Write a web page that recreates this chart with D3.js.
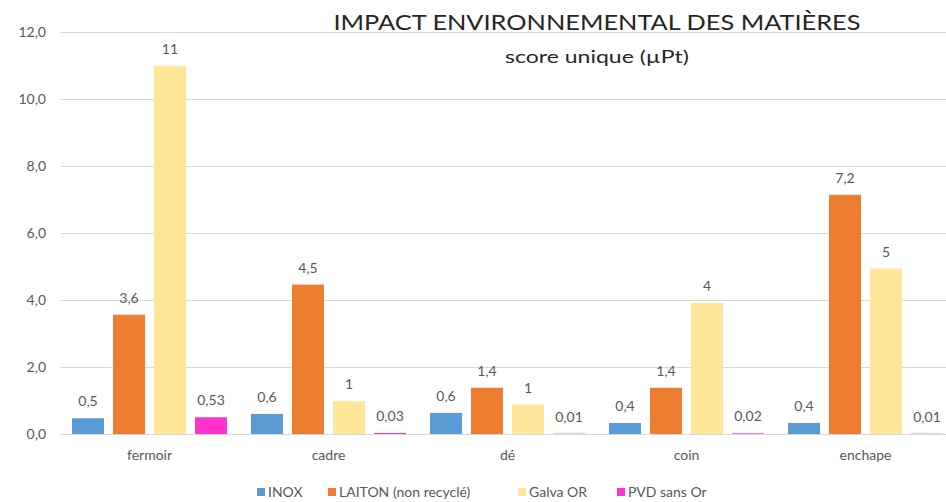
<!DOCTYPE html>
<html>
<head>
<meta charset="utf-8">
<script src="https://cdn.jsdelivr.net/npm/d3@7"></script>
<style>
  body { margin: 0; background: #fff; }
  svg { display: block; }
</style>
</head>
<body>
<div id="chart"></div>
<script>
// Données
const categories = ['fermoir', 'cadre', 'dé', 'coin', 'enchape'];
const seriesNames = ['INOX', 'LAITON (non recyclé)', 'Galva OR', 'PVD sans Or'];
const seriesColors = ['#5B9BD5', '#ED7D31', '#FFE699', '#FF33CC'];

// hauteur des barres (par série, dans l'ordre des catégories)
const inoxValues   = [0.47, 0.6, 0.63, 0.33, 0.33];
const laitonValues = [3.56, 4.46, 1.38, 1.38, 7.14];
const galvaValues  = [10.98, 0.98, 0.88, 3.91, 4.94];
const pvdValues    = [0.5, 0.03, 0.01, 0.02, 0.01];

// étiquettes affichées au-dessus des barres
const inoxLabels   = ['0,5', '0,6', '0,6', '0,4', '0,4'];
const laitonLabels = ['3,6', '4,5', '1,4', '1,4', '7,2'];
const galvaLabels  = ['11', '1', '1', '4', '5'];
const pvdLabels    = ['0,53', '0,03', '0,01', '0,02', '0,01'];

const yTicks = [0, 2, 4, 6, 8, 10, 12];

const allValues = [inoxValues, laitonValues, galvaValues, pvdValues];
const allLabels = [inoxLabels, laitonLabels, galvaLabels, pvdLabels];

const W = 946, H = 502;
const svg = d3.select('#chart').append('svg')
  .attr('width', W)
  .attr('height', H);

const textFont = 'Lato, "Open Sans", sans-serif';
const grey = '#595959';

// Echelles
const x0 = d3.scaleBand()
  .domain(categories)
  .range([60, 955])
  .paddingInner(0.134)
  .paddingOuter(0.067);

const x1 = d3.scaleBand()
  .domain(seriesNames)
  .range([0, x0.bandwidth()])
  .paddingInner(0.22)
  .paddingOuter(0);

const y = d3.scaleLinear()
  .domain([0, 12])
  .range([434, 32]);

const fmt = v => d3.format('.1f')(v).replace('.', ',');

// Grille horizontale
svg.append('g')
  .selectAll('line')
  .data(yTicks)
  .enter().append('line')
  .attr('x1', 60)
  .attr('x2', W)
  .attr('y1', d => Math.round(y(d)) + 0.5)
  .attr('y2', d => Math.round(y(d)) + 0.5)
  .attr('stroke', '#d9d9d9')
  .attr('stroke-width', 1);

// Axe Y (libellés seulement)
const yAxis = svg.append('g')
  .attr('transform', 'translate(46,0)')
  .call(d3.axisLeft(y).tickValues(yTicks).tickFormat(fmt).tickSize(0).tickPadding(0));
yAxis.select('.domain').remove();
yAxis.selectAll('text')
  .attr('fill', grey)
  .style('font-family', textFont)
  .style('font-size', '14px');

// Axe X (catégories)
const xAxis = svg.append('g')
  .attr('transform', 'translate(0,434)')
  .call(d3.axisBottom(x0).tickSize(0).tickPadding(16));
xAxis.select('.domain').remove();
xAxis.selectAll('text')
  .attr('fill', grey)
  .style('font-family', textFont)
  .style('font-size', '14px');

// Barres
const groups = svg.append('g')
  .selectAll('g')
  .data(categories)
  .enter().append('g')
  .attr('transform', d => `translate(${x0(d)},0)`);

groups.selectAll('rect')
  .data((c, i) => seriesNames.map((s, j) => ({ s, j, v: allValues[j][i], label: allLabels[j][i] })))
  .enter().append('rect')
  .attr('x', d => x1(d.s))
  .attr('width', x1.bandwidth())
  .attr('y', d => y(d.v))
  .attr('height', d => y(0) - y(d.v))
  .attr('fill', d => seriesColors[d.j]);

// Étiquettes de valeurs
groups.selectAll('text')
  .data((c, i) => seriesNames.map((s, j) => ({ s, j, v: allValues[j][i], label: allLabels[j][i] })))
  .enter().append('text')
  .attr('x', d => x1(d.s) + x1.bandwidth() / 2)
  .attr('y', d => y(d.v) - 12)
  .attr('text-anchor', 'middle')
  .attr('fill', grey)
  .style('font-family', textFont)
  .style('font-size', '14px')
  .text(d => d.label);

// Titre
svg.append('text')
  .attr('x', 597)
  .attr('y', 30)
  .attr('text-anchor', 'middle')
  .attr('fill', '#262626')
  .style('font-family', 'Lato, sans-serif')
  .style('font-size', '22px')
  .attr('textLength', 527)
  .attr('lengthAdjust', 'spacingAndGlyphs')
  .text('IMPACT ENVIRONNEMENTAL DES MATIÈRES');

svg.append('text')
  .attr('x', 597)
  .attr('y', 63)
  .attr('text-anchor', 'middle')
  .attr('fill', '#262626')
  .style('font-family', 'Lato, sans-serif')
  .style('font-size', '18px')
  .attr('textLength', 184)
  .attr('lengthAdjust', 'spacingAndGlyphs')
  .text('score unique (µPt)');

// Légende
const legendX = [257, 328, 518, 617];
const legend = svg.append('g')
  .selectAll('g')
  .data(seriesNames)
  .enter().append('g')
  .attr('transform', (d, i) => `translate(${legendX[i]},488)`);

legend.append('rect')
  .attr('width', 8)
  .attr('height', 8)
  .attr('fill', (d, i) => seriesColors[i]);

legend.append('text')
  .attr('x', 11)
  .attr('y', 9)
  .attr('fill', grey)
  .style('font-family', textFont)
  .style('font-size', '14px')
  .text(d => d);
</script>
</body>
</html>
